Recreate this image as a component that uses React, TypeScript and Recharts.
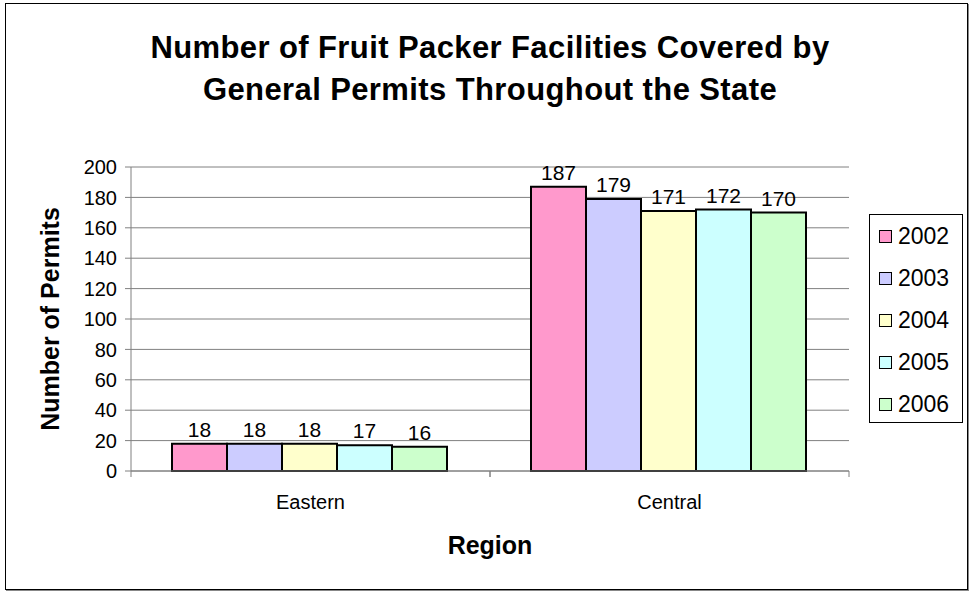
import React from "react";
import { BarChart, Bar, XAxis, YAxis, CartesianGrid, LabelList, Label } from "recharts";

const regions = ["Eastern", "Central"];
const years = ["2002", "2003", "2004", "2005", "2006"];
const values2002 = [18, 187];
const values2003 = [18, 179];
const values2004 = [18, 171];
const values2005 = [17, 172];
const values2006 = [16, 170];
const yTicks = [0, 20, 40, 60, 80, 100, 120, 140, 160, 180, 200];
const colors = ["#FF99CC", "#CCCCFF", "#FFFFCC", "#CCFFFF", "#CCFFCC"];

const seriesValues = [values2002, values2003, values2004, values2005, values2006];
const data = regions.map((r, i) => {
  const row: Record<string, any> = { region: r };
  years.forEach((y, j) => (row[y] = seriesValues[j][i]));
  return row;
});

const FONT = "'Liberation Sans', Arial, sans-serif";
const TICK_MARGIN = 22;

const CategoryTick = (props: any) => {
  const { x, y, payload } = props;
  const off = payload && typeof payload.offset === "number" ? payload.offset : 0;
  const axisY = y - TICK_MARGIN;
  return (
    <g>
      {off > 0 && (
        <>
          <line x1={x - off} x2={x - off} y1={axisY} y2={axisY + 6} stroke="#808080" />
          <line x1={x + off} x2={x + off} y1={axisY} y2={axisY + 6} stroke="#808080" />
        </>
      )}
      <text x={x} y={y} dy={16} textAnchor="middle" fill="#000" fontSize={20} fontFamily={FONT}>
        {payload.value}
      </text>
    </g>
  );
};

const LegendBox = () => (
  <div
    style={{
      position: "absolute",
      left: 869,
      top: 214,
      border: "1px solid #000",
      background: "#fff",
      width: 94,
      height: 209,
      boxSizing: "border-box",
      fontFamily: FONT,
    }}
  >
    {years.map((y, i) => (
      <div key={y} style={{ display: "flex", alignItems: "center", height: 42, paddingLeft: 9 }}>
        <span
          style={{
            display: "inline-block",
            width: 11,
            height: 11,
            background: colors[i],
            border: "1.5px solid #000",
            marginRight: 6,
          }}
        />
        <span style={{ fontSize: 23, color: "#000", lineHeight: "42px" }}>{y}</span>
      </div>
    ))}
  </div>
);

export default function App() {
  return (
    <div style={{ position: "absolute", left: 0, top: 0, width: 973, height: 594, background: "#fff", fontFamily: FONT }}>
      <div
        style={{
          position: "absolute",
          left: 5,
          top: 3,
          width: 961,
          height: 585,
          border: "1.5px solid #000",
          boxShadow: "1px 1px 0 #888",
        }}
      />
      <div
        style={{
          position: "absolute",
          left: 0,
          top: 27,
          width: 980,
          textAlign: "center",
          fontSize: 31,
          fontWeight: "bold",
          lineHeight: "42px",
          letterSpacing: 0.4,
          color: "#000",
        }}
      >
        Number of Fruit Packer Facilities Covered by
        <br />
        General Permits Throughout the State
      </div>
      <div style={{ position: "absolute", left: 0, top: 0 }}>
        <BarChart
          width={973}
          height={594}
          data={data}
          margin={{ top: 167, right: 124, bottom: 43, left: 71 }}
          barCategoryGap={41}
          barGap={0}
        >
          <CartesianGrid horizontal vertical={false} stroke="#808080" strokeWidth={1} />
          <XAxis
            dataKey="region"
            axisLine={{ stroke: "#808080" }}
            tickLine={false}
            tickSize={0}
            tickMargin={TICK_MARGIN}
            height={80}
            tick={<CategoryTick />}
          >
            <Label
              content={(props: any) => {
                const vb = props.viewBox;
                return (
                  <text
                    x={vb.x + vb.width / 2}
                    y={vb.y + 83}
                    textAnchor="middle"
                    fontSize={25}
                    fontWeight="bold"
                    fontFamily={FONT}
                    fill="#000"
                  >
                    Region
                  </text>
                );
              }}
            />
          </XAxis>
          <YAxis
            width={60}
            domain={[0, 200]}
            ticks={yTicks}
            interval={0}
            axisLine={{ stroke: "#808080" }}
            tickLine={{ stroke: "#808080" }}
            tickSize={6}
            tickMargin={8}
            tick={{ fill: "#000", fontSize: 20, fontFamily: FONT }}
          >
            <Label
              content={(props: any) => {
                const vb = props.viewBox;
                const x = vb.x - 12;
                const y = vb.y + vb.height / 2;
                return (
                  <text
                    x={x}
                    y={y}
                    transform={`rotate(-90, ${x}, ${y})`}
                    textAnchor="middle"
                    fontSize={25}
                    fontWeight="bold"
                    fontFamily={FONT}
                    fill="#000"
                  >
                    Number of Permits
                  </text>
                );
              }}
            />
          </YAxis>
          {years.map((y, i) => (
            <Bar key={y} dataKey={y} fill={colors[i]} stroke="#000" strokeWidth={2} isAnimationActive={false}>
              <LabelList dataKey={y} position="top" offset={7} fill="#000" fontSize={21} fontFamily={FONT} />
            </Bar>
          ))}
        </BarChart>
      </div>
      <LegendBox />
    </div>
  );
}
